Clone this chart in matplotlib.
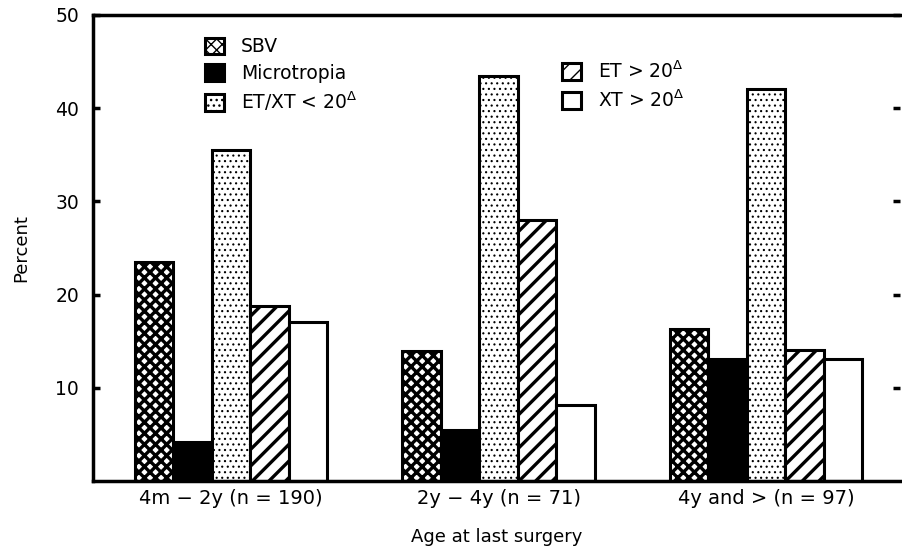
import matplotlib
matplotlib.use("Agg")
import matplotlib.pyplot as plt
import numpy as np

plt.rcParams['font.family'] = ['DejaVu Sans']
plt.rcParams['mathtext.fontset'] = 'dejavusans'

groups = ["4m \u2212 2y (n = 190)", "2y \u2212 4y (n = 71)", "4y and > (n = 97)"]
series = ["SBV", "Microtropia", "ET/XT < 20$^{\\Delta}$", "ET > 20$^{\\Delta}$", "XT > 20$^{\\Delta}$"]
sbv = [23.5, 13.9, 16.3]
micro = [4.2, 5.5, 13.1]
etxt_small = [35.5, 43.5, 42.1]
et_large = [18.8, 28.0, 14.1]
xt_large = [17.1, 8.2, 13.1]
yticks = [10, 20, 30, 40, 50]

values = [sbv, micro, etxt_small, et_large, xt_large]
styles = [
    dict(facecolor='white', hatch='xxx'),
    dict(facecolor='black', hatch=None),
    dict(facecolor='white', hatch='...'),
    dict(facecolor='white', hatch='//'),
    dict(facecolor='white', hatch=None),
]
hatch_lw = [2.4, 1.0, 0.8, 2.4, 1.0]

fig = plt.figure(figsize=(9.02, 5.53), dpi=100)
ax = fig.add_axes([93/902, 1-481/553, 807/902, (481-15)/553])

x = np.arange(len(groups))
w = 0.144
handles = []
for i, (vals, st) in enumerate(zip(values, styles)):
    with plt.rc_context({'hatch.linewidth': hatch_lw[i]}):
        b = ax.bar(x + (i-2)*w, vals, width=w, edgecolor='black', linewidth=2.2, **st)
    handles.append(b)

ax.set_xlim(-0.516, 2.501)
ax.set_ylim(0, 50)
ax.set_yticks(yticks)
ax.set_yticklabels([str(t) for t in yticks], fontsize=13.5)
ax.set_xticks(x)
ax.set_xticklabels(groups, fontsize=14)
ax.tick_params(axis='x', length=0, pad=6)
ax.tick_params(axis='y', direction='in', length=5, width=2.5, right=True, pad=10)
for s in ['left', 'top', 'bottom']:
    ax.spines[s].set_linewidth(2.5)
ax.spines['right'].set_visible(False)

ax.set_ylabel("Percent", fontsize=13, labelpad=18)
ax.set_xlabel("Age at last surgery", fontsize=13, labelpad=14)

leg1 = ax.legend(handles[:3], series[:3], loc='upper left', bbox_to_anchor=(0.13, 0.968),
                 frameon=False, fontsize=13.5, handlelength=1.0, handleheight=1.0,
                 handletextpad=0.9, labelspacing=0.38, borderaxespad=0)
ax.add_artist(leg1)
ax.legend(handles[3:], series[3:], loc='upper left', bbox_to_anchor=(0.572, 0.918),
          frameon=False, fontsize=13.5, handlelength=1.0, handleheight=1.0,
          handletextpad=0.9, labelspacing=0.38, borderaxespad=0)

fig.savefig("out.png", dpi=100)
